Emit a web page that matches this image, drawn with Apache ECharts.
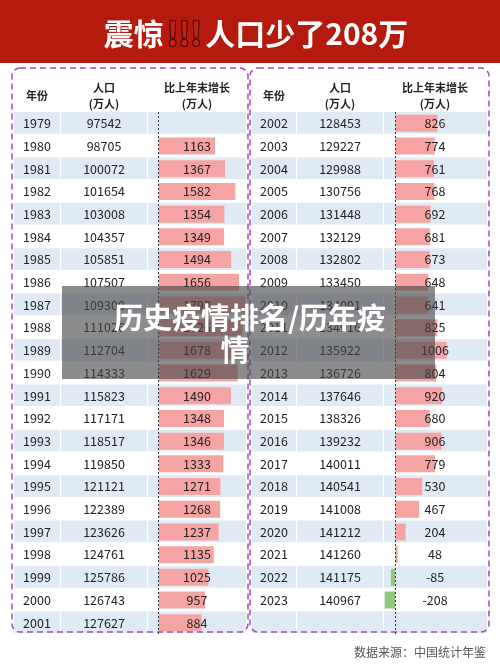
<!DOCTYPE html>
<html>
<head>
<meta charset="utf-8">
<script src="https://cdn.jsdelivr.net/npm/echarts@6/dist/echarts.min.js"></script>
<style>html,body{margin:0;padding:0;background:#fff}#chart{width:500px;height:667px}</style>
</head>
<body>
<div id="chart"></div>
<script>
// data
var yearsL = ['1979','1980','1981','1982','1983','1984','1985','1986','1987','1988','1989','1990','1991','1992','1993','1994','1995','1996','1997','1998','1999','2000','2001'];
var popL = [97542,98705,100072,101654,103008,104357,105851,107507,109300,111026,112704,114333,115823,117171,118517,119850,121121,122389,123626,124761,125786,126743,127627];
var chgL = [null,1163,1367,1582,1354,1349,1494,1656,1793,1726,1678,1629,1490,1348,1346,1333,1271,1268,1237,1135,1025,957,884];
var yearsR = ['2002','2003','2004','2005','2006','2007','2008','2009','2010','2011','2012','2013','2014','2015','2016','2017','2018','2019','2020','2021','2022','2023',''];
var popR = [128453,129227,129988,130756,131448,132129,132802,133450,134091,134916,135922,136726,137646,138326,139232,140011,140541,141008,141212,141260,141175,140967,null];
var chgR = [826,774,761,768,692,681,673,648,641,825,1006,804,920,680,906,779,530,467,204,48,-85,-208,null];

var chart = echarts.init(document.getElementById('chart'));
var font = '"Noto Sans CJK SC", "Noto Sans", sans-serif';
var rowTop = 112, rowH = 22.7, nRows = 23;

// column layout per panel: [x0, x1, center]
var colsL = [[14, 60, 37], [61, 147, 104], [148, 246, 197]];
var colsR = [[252, 296, 274], [297, 383, 340], [384, 487, 435]];

var g = [];
g.push({type: 'rect', shape: {x: 0, y: 0, width: 500, height: 63}, style: {fill: '#b51a0e'}});
g.push({type: 'text', x: 256, y: 34, style: {
    text: '{w|震惊}{e|!!!}{w|人口少了208万}', textAlign: 'center', textVerticalAlign: 'middle',
    rich: {
        w: {fill: '#fff', font: 'bold 30px ' + font},
        e: {fill: '#c81f14', stroke: '#3a0a06', lineWidth: 2, font: 'bold 32px ' + font, padding: [0, 3, 0, 3]}
    }
}});

function panel(cols, years, pops, chgs) {
    for (var i = 0; i < nRows; i++) {
        var y = rowTop + i * rowH;
        if (i % 2 === 0) {
            cols.forEach(function (c) {
                g.push({type: 'rect', z: -1, shape: {x: c[0], y: y, width: c[1] - c[0], height: rowH - 1}, style: {fill: '#dfeaf5'}});
            });
        }
        var cy = y + rowH / 2;
        var st = function (t, x) {
            return {type: 'text', z: 10, x: x, y: cy, style: {text: t, fill: '#222', font: '12.5px ' + font, textAlign: 'center', textVerticalAlign: 'middle'}};
        };
        g.push(st(years[i], cols[0][2]));
        if (pops[i] != null) g.push(st(String(pops[i]), cols[1][2]));
        if (chgs[i] != null) g.push(st(String(chgs[i]), cols[2][2]));
    }
    var hf = 'bold 11px ' + font;
    g.push({type: 'text', x: cols[0][2], y: 96, style: {text: '年份', fill: '#222', font: hf, textAlign: 'center', textVerticalAlign: 'middle'}});
    g.push({type: 'text', x: cols[1][2], y: 88, style: {text: '人口', fill: '#222', font: hf, textAlign: 'center', textVerticalAlign: 'middle'}});
    g.push({type: 'text', x: cols[1][2], y: 104, style: {text: '(万人)', fill: '#222', font: hf, textAlign: 'center', textVerticalAlign: 'middle'}});
    g.push({type: 'text', x: cols[2][2], y: 88, style: {text: '比上年末增长', fill: '#222', font: hf, textAlign: 'center', textVerticalAlign: 'middle'}});
    g.push({type: 'text', x: cols[2][2], y: 104, style: {text: '(万人)', fill: '#222', font: hf, textAlign: 'center', textVerticalAlign: 'middle'}});
}
panel(colsL, yearsL, popL, chgL);
panel(colsR, yearsR, popR, chgR);

g.push({type: 'rect', z: 5, shape: {x: 12, y: 68, width: 236, height: 564, r: 8}, style: {fill: 'none', stroke: '#a24db5', lineWidth: 1.5, lineDash: [6, 4]}});
g.push({type: 'rect', z: 5, shape: {x: 250, y: 68, width: 239, height: 564, r: 8}, style: {fill: 'none', stroke: '#a24db5', lineWidth: 1.5, lineDash: [6, 4]}});

// watermark overlay
g.push({type: 'rect', z: 20, shape: {x: 62, y: 286, width: 373, height: 93}, style: {fill: 'rgba(70,70,70,0.62)'}});
g.push({type: 'text', z: 21, x: 250, y: 318, style: {text: '历史疫情排名/历年疫', fill: '#fff', font: 'bold 29px ' + font, textAlign: 'center', textVerticalAlign: 'middle'}});
g.push({type: 'text', z: 21, x: 235, y: 350, style: {text: '情', fill: '#fff', font: 'bold 29px ' + font, textAlign: 'center', textVerticalAlign: 'middle'}});

g.push({type: 'text', x: 486, y: 652, style: {text: '数据来源：中国统计年鉴', fill: '#555', font: '12px ' + font, textAlign: 'right', textVerticalAlign: 'middle'}});

function grid(cols) {
    return {left: cols[2][0], width: cols[2][1] - cols[2][0], top: rowTop, height: rowH * nRows};
}
function colors(v) { return v < 0 ? '#93c77f' : '#f5a3a3'; }
function barData(arr) {
    return arr.map(function (v) { return {value: v, itemStyle: {color: colors(v)}}; });
}
var idx = yearsL.map(function (_, i) { return i; });

chart.setOption({
    animation: false,
    graphic: g,
    grid: [grid(colsL), grid(colsR)],
    xAxis: [0, 1].map(function (i) {
        return {type: 'value', gridIndex: i, min: -220, max: 1800, show: false};
    }),
    yAxis: [0, 1].map(function (i) {
        return {type: 'category', gridIndex: i, data: idx, inverse: true, show: false};
    }),
    series: [
        {type: 'bar', xAxisIndex: 0, yAxisIndex: 0, data: barData(chgL), barWidth: 17, z: 3,
            markLine: {silent: true, symbol: 'none', label: {show: false}, lineStyle: {color: '#333', type: [2, 2], width: 1}, data: [{xAxis: 0}]}},
        {type: 'bar', xAxisIndex: 1, yAxisIndex: 1, data: barData(chgR), barWidth: 17, z: 3,
            markLine: {silent: true, symbol: 'none', label: {show: false}, lineStyle: {color: '#333', type: [2, 2], width: 1}, data: [{xAxis: 0}]}}
    ]
});
</script>
</body>
</html>
